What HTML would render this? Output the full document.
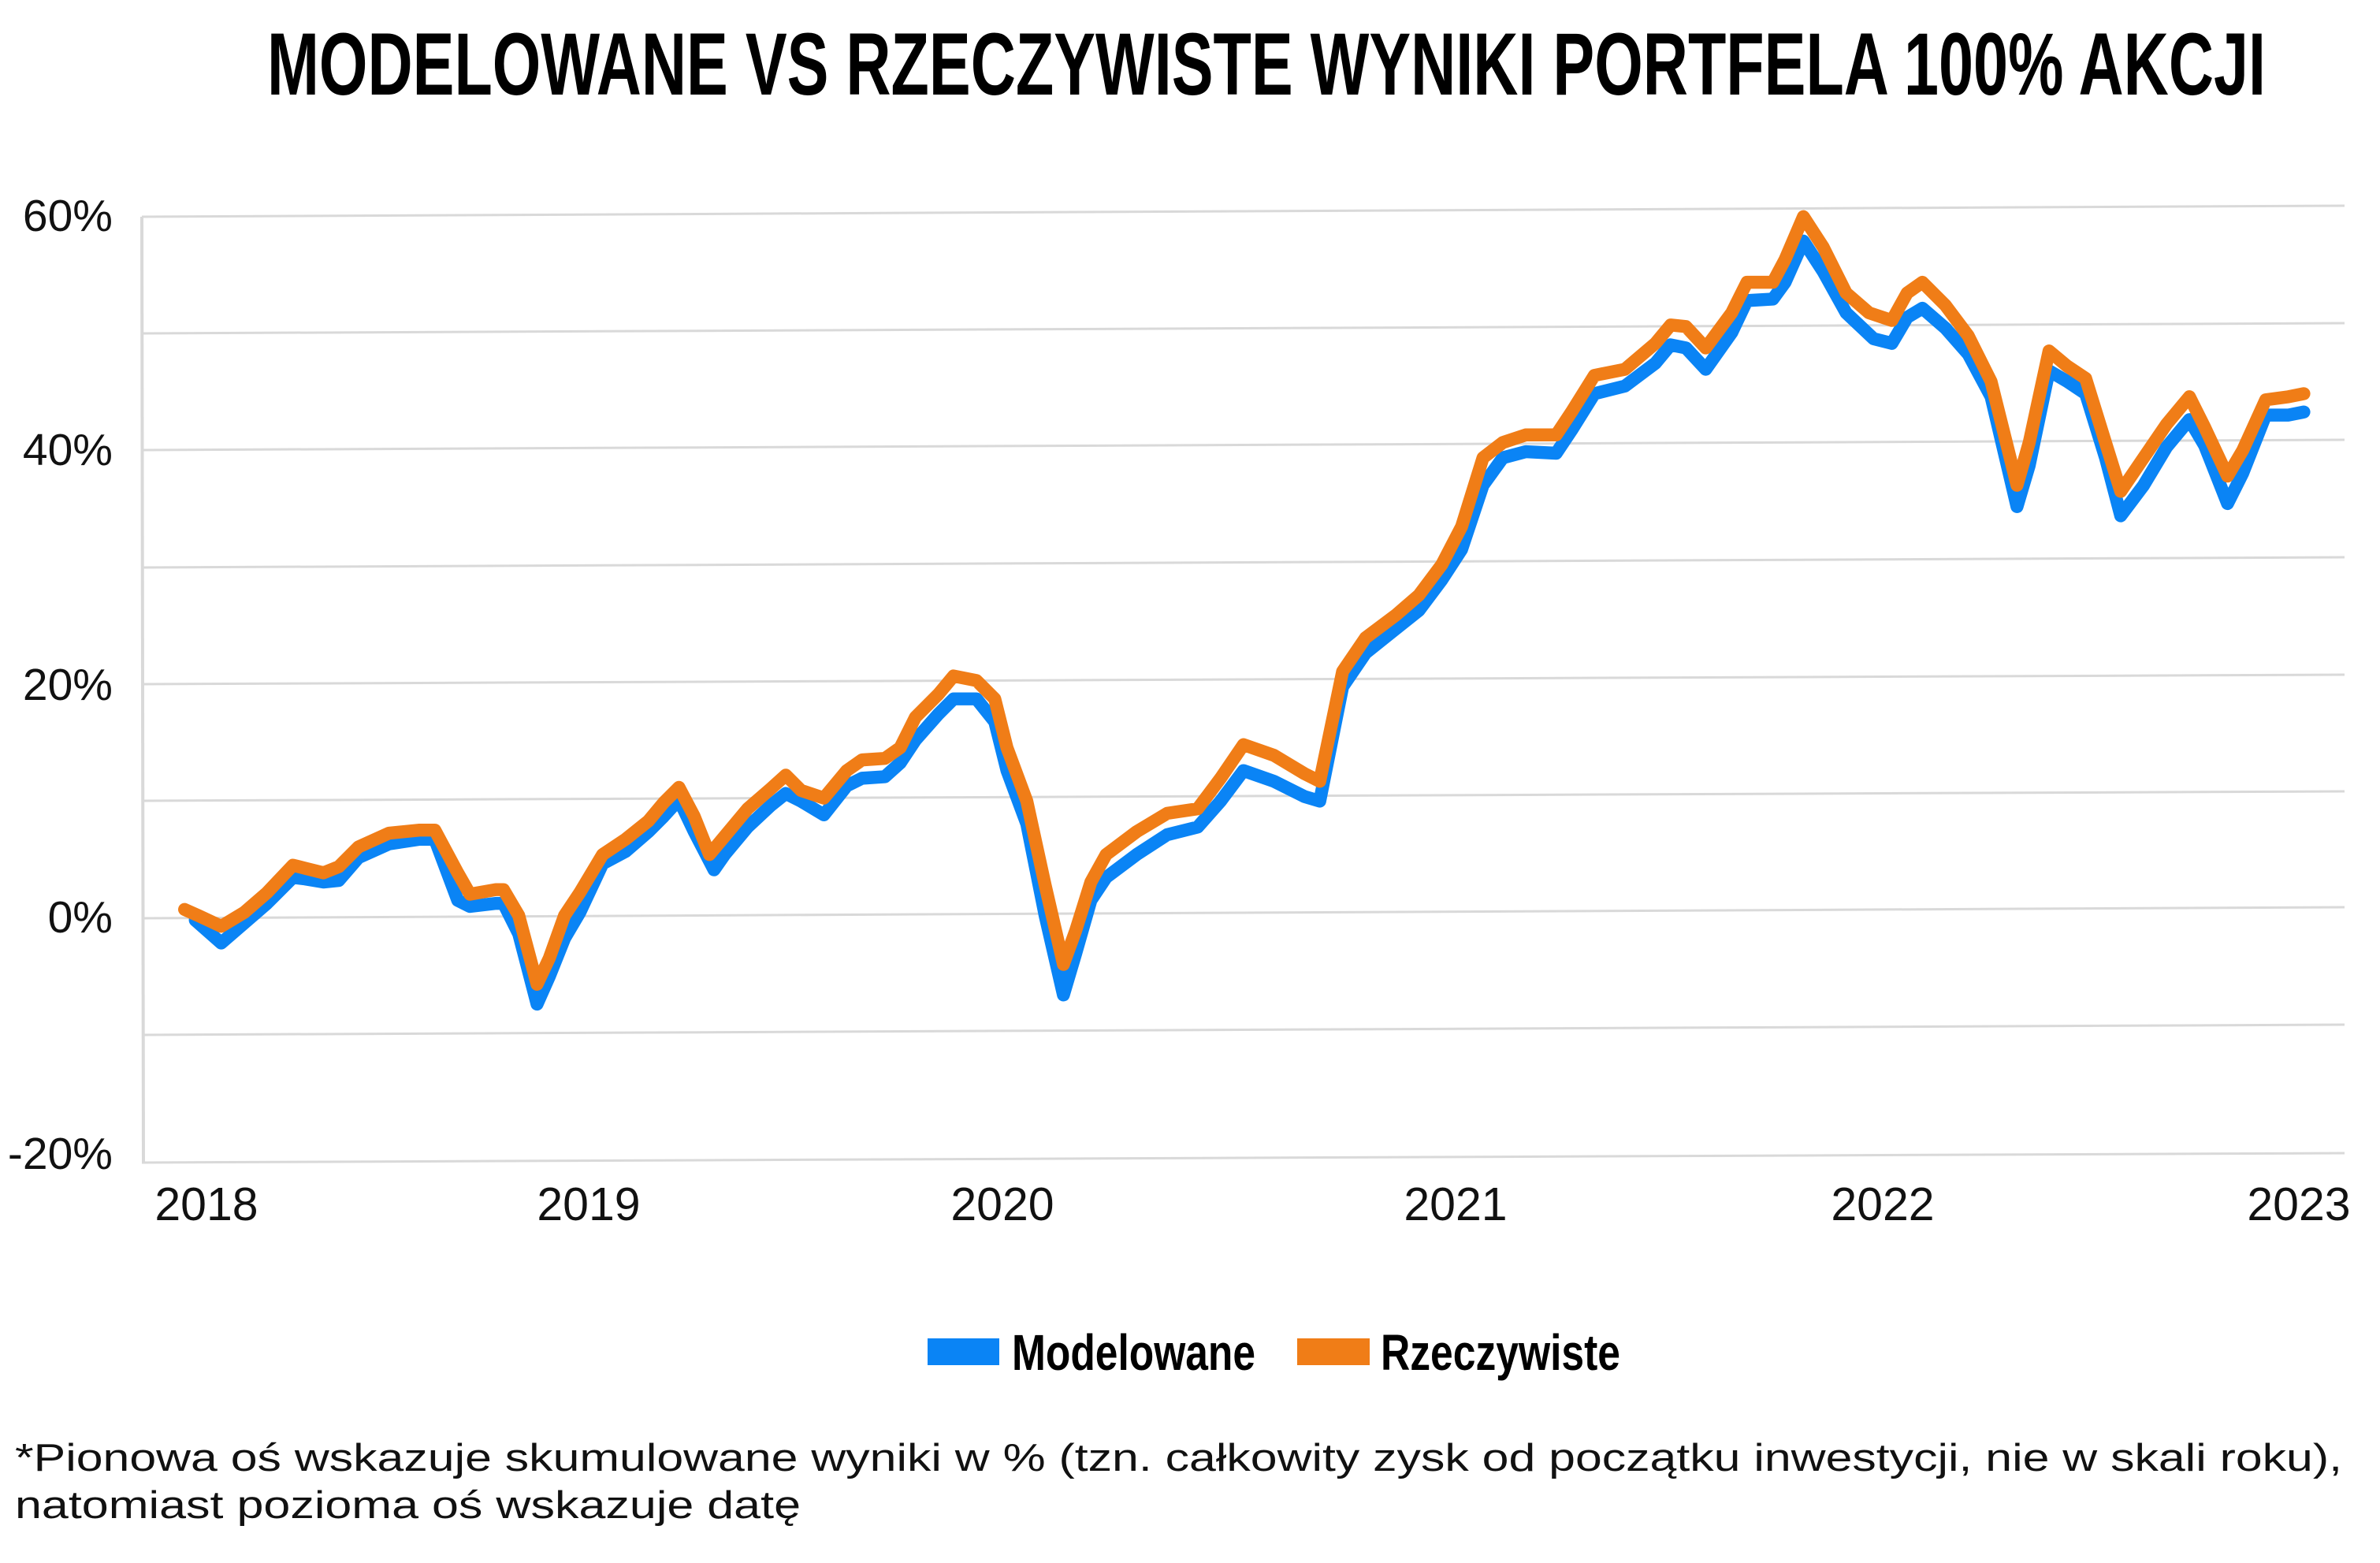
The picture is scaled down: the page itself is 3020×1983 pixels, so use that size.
<!DOCTYPE html>
<html><head><meta charset="utf-8"><style>
html,body{margin:0;padding:0;background:#fff;}
svg{display:block;}
</style></head><body>
<svg width="3020" height="1983" viewBox="0 0 3020 1983" xmlns="http://www.w3.org/2000/svg">
<rect width="3020" height="1983" fill="#fff"/>
<text x="339" y="120" font-family="Liberation Sans Narrow, Liberation Sans, sans-serif" font-weight="bold" font-size="112" textLength="2536" lengthAdjust="spacingAndGlyphs" fill="#000">MODELOWANE VS RZECZYWISTE WYNIKI PORTFELA 100% AKCJI</text>
<g stroke="#d9d9d9" stroke-width="3" fill="none">
<line x1="180" y1="275" x2="2975" y2="261"/>
<line x1="180" y1="423" x2="2975" y2="410"/>
<line x1="180" y1="571" x2="2975" y2="558"/>
<line x1="180" y1="720" x2="2975" y2="707"/>
<line x1="180" y1="868" x2="2975" y2="856"/>
<line x1="180" y1="1016" x2="2975" y2="1004"/>
<line x1="180" y1="1165" x2="2975" y2="1151"/>
<line x1="180" y1="1313" x2="2975" y2="1300"/>
<line x1="180" y1="1475" x2="2975" y2="1463"/>
<line x1="180" y1="275" x2="182" y2="1476" stroke-width="4"/>
</g>
<g font-family="Liberation Sans, sans-serif" font-size="57" fill="#111" text-anchor="end">
<text x="143" y="293">60%</text>
<text x="143" y="590">40%</text>
<text x="143" y="888">20%</text>
<text x="143" y="1183">0%</text>
<text x="143" y="1483">-20%</text>
</g>
<g font-family="Liberation Sans, sans-serif" font-size="59" fill="#111" text-anchor="middle">
<text x="262" y="1548">2018</text>
<text x="747" y="1548">2019</text>
<text x="1272" y="1548">2020</text>
<text x="1847" y="1548">2021</text>
<text x="2389" y="1548">2022</text>
<text x="2917" y="1548">2023</text>
</g>
<g transform="scale(1.936)" fill="none" stroke-linejoin="round" stroke-linecap="round">
<polyline stroke="#0a84f5" stroke-width="8.5" points="128,603 145,618 160,605 175,592 192,575 200,576 212,578 222,577 235,562 255,553 275,550 285,550 300,590 308,594 325,592 330,592 340,612 352,658 360,640 370,615 380,598 395,566 410,558 425,545 435,535 445,524 455,545 468,570 475,560 490,542 505,528 515,520 525,525 540,534 555,515 565,510 580,509 590,500 600,485 615,468 625,458 640,458 652,473 660,505 673,540 685,600 697,652 705,625 715,590 725,575 745,560 765,547 785,542 800,525 815,505 835,512 855,522 865,525 880,450 895,428 915,412 930,400 945,380 958,360 972,318 985,300 1000,296 1020,297 1030,282 1045,258 1065,253 1085,238 1095,226 1105,228 1118,242 1135,218 1145,197 1162,196 1170,185 1182,158 1195,178 1210,205 1228,222 1240,225 1250,208 1260,202 1275,215 1290,232 1305,260 1322,332 1330,305 1343,243 1355,250 1367,258 1380,300 1390,338 1405,318 1420,293 1435,275 1445,292 1460,330 1470,310 1485,272 1500,272 1510,270"/>
<polyline stroke="#f07d17" stroke-width="8.5" points="121,596 130,600 145,607 160,598 175,585 192,567 200,569 212,572 222,568 235,555 255,546 275,544 285,544 300,572 308,586 325,583 330,583 340,600 352,645 360,628 370,600 380,585 395,560 410,550 425,538 435,526 445,516 455,535 465,560 475,548 490,530 505,517 515,508 525,518 540,523 555,505 565,498 580,497 590,490 600,470 615,455 625,443 640,446 652,458 660,490 673,525 685,580 697,632 705,610 715,578 725,560 745,545 765,533 785,530 800,510 815,488 835,495 855,507 865,512 880,440 895,418 915,403 930,390 945,370 958,345 972,300 985,290 1000,285 1020,285 1030,270 1045,246 1065,242 1085,225 1095,213 1105,214 1118,228 1135,205 1145,185 1162,185 1170,170 1182,142 1195,162 1210,192 1225,205 1240,210 1250,192 1260,185 1275,200 1290,220 1305,250 1322,318 1330,290 1343,230 1355,240 1367,248 1380,290 1390,322 1405,300 1420,278 1435,260 1445,280 1460,312 1470,295 1485,262 1500,260 1510,258"/>
</g>
<rect x="1177" y="1698" width="91" height="34" fill="#0a84f5"/>
<text x="1284" y="1738" font-family="Liberation Sans Narrow, Liberation Sans, sans-serif" font-weight="bold" font-size="64" textLength="309" lengthAdjust="spacingAndGlyphs" fill="#000">Modelowane</text>
<rect x="1646" y="1698" width="92" height="34" fill="#f07d17"/>
<text x="1752" y="1738" font-family="Liberation Sans Narrow, Liberation Sans, sans-serif" font-weight="bold" font-size="64" textLength="304" lengthAdjust="spacingAndGlyphs" fill="#000">Rzeczywiste</text>
<g font-family="Liberation Sans, sans-serif" font-size="49" fill="#111">
<text x="19" y="1866" textLength="2953" lengthAdjust="spacingAndGlyphs">*Pionowa oś wskazuje skumulowane wyniki w % (tzn. całkowity zysk od początku inwestycji, nie w skali roku),</text>
<text x="19" y="1926" textLength="997" lengthAdjust="spacingAndGlyphs">natomiast pozioma oś wskazuje datę</text>
</g>
</svg>
</body></html>
